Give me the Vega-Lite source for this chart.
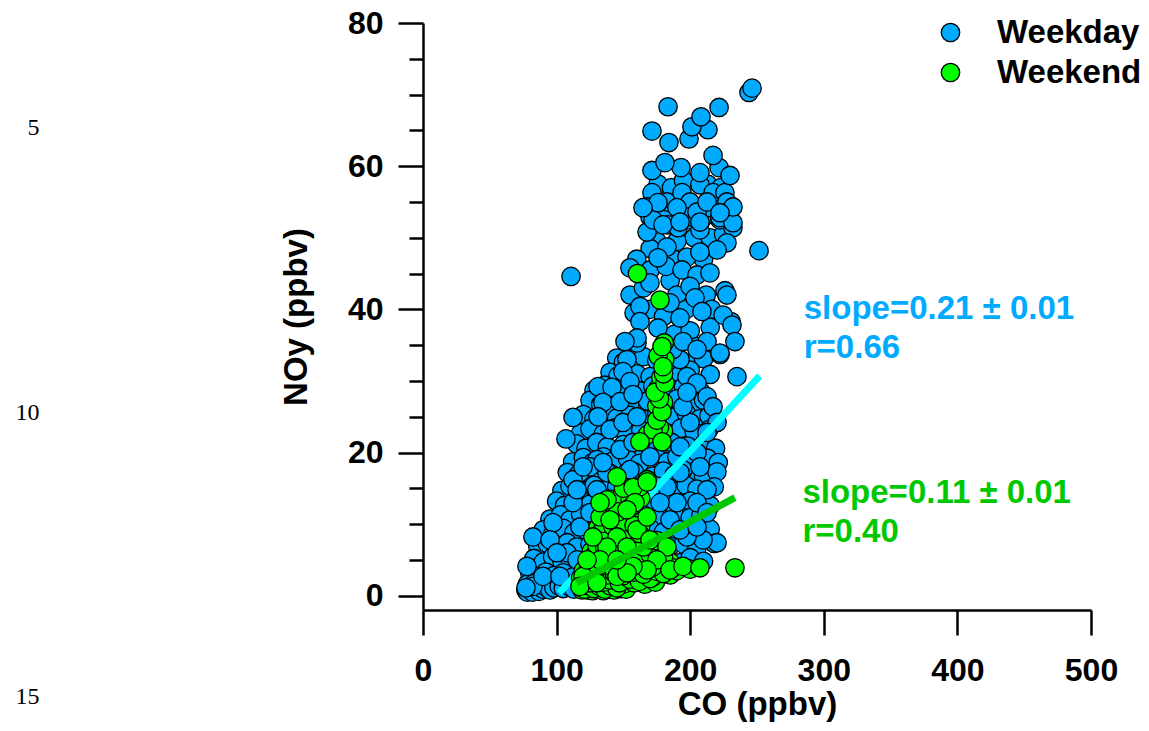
{
"$schema":"https://vega.github.io/schema/vega-lite/v6.json",
"autosize":{"type":"none"},
"padding":{"left":423,"top":23,"right":58,"bottom":121},
"width":668,"height":587,
"background":"white",
"config":{"view":{"stroke":null},"font":"Liberation Sans"},
"datasets":{
"weekday":[
{"CO":145,"NOy":33.2,"day":"Weekday"},{"CO":150,"NOy":32.6,"day":"Weekday"},{"CO":165,"NOy":33.4,"day":"Weekday"},{"CO":175,"NOy":32.8,"day":"Weekday"},{"CO":185,"NOy":33.5,"day":"Weekday"},{"CO":197,"NOy":32.5,"day":"Weekday"},{"CO":210,"NOy":33.1,"day":"Weekday"},
{"CO":140,"NOy":31.2,"day":"Weekday"},{"CO":146,"NOy":30.7,"day":"Weekday"},{"CO":152,"NOy":31.4,"day":"Weekday"},{"CO":160,"NOy":31.0,"day":"Weekday"},{"CO":170,"NOy":30.6,"day":"Weekday"},{"CO":186,"NOy":31.3,"day":"Weekday"},{"CO":192,"NOy":30.8,"day":"Weekday"},{"CO":200,"NOy":31.5,"day":"Weekday"},{"CO":215,"NOy":30.9,"day":"Weekday"},
{"CO":128,"NOy":28.7,"day":"Weekday"},{"CO":136,"NOy":29.4,"day":"Weekday"},{"CO":150,"NOy":29.0,"day":"Weekday"},{"CO":163,"NOy":28.6,"day":"Weekday"},{"CO":172,"NOy":29.3,"day":"Weekday"},{"CO":188,"NOy":28.8,"day":"Weekday"},{"CO":195,"NOy":29.2,"day":"Weekday"},{"CO":208,"NOy":28.5,"day":"Weekday"},
{"CO":125,"NOy":27.3,"day":"Weekday"},{"CO":133,"NOy":26.7,"day":"Weekday"},{"CO":142,"NOy":27.4,"day":"Weekday"},{"CO":155,"NOy":26.8,"day":"Weekday"},{"CO":168,"NOy":27.2,"day":"Weekday"},{"CO":180,"NOy":26.6,"day":"Weekday"},{"CO":190,"NOy":27.5,"day":"Weekday"},{"CO":203,"NOy":26.9,"day":"Weekday"},{"CO":210,"NOy":27.3,"day":"Weekday"},
{"CO":120,"NOy":25.3,"day":"Weekday"},{"CO":128,"NOy":24.7,"day":"Weekday"},{"CO":138,"NOy":25.4,"day":"Weekday"},{"CO":145,"NOy":24.8,"day":"Weekday"},{"CO":155,"NOy":25.2,"day":"Weekday"},{"CO":166,"NOy":24.6,"day":"Weekday"},{"CO":175,"NOy":25.4,"day":"Weekday"},{"CO":187,"NOy":24.9,"day":"Weekday"},{"CO":197,"NOy":25.5,"day":"Weekday"},{"CO":207,"NOy":24.7,"day":"Weekday"},{"CO":214,"NOy":25.1,"day":"Weekday"},
{"CO":118,"NOy":22.7,"day":"Weekday"},{"CO":125,"NOy":23.3,"day":"Weekday"},{"CO":135,"NOy":22.6,"day":"Weekday"},{"CO":143,"NOy":23.4,"day":"Weekday"},{"CO":152,"NOy":22.8,"day":"Weekday"},{"CO":163,"NOy":23.1,"day":"Weekday"},{"CO":183,"NOy":22.7,"day":"Weekday"},{"CO":193,"NOy":23.4,"day":"Weekday"},{"CO":203,"NOy":22.9,"day":"Weekday"},{"CO":214,"NOy":23.2,"day":"Weekday"},
{"CO":115,"NOy":21.2,"day":"Weekday"},{"CO":122,"NOy":20.6,"day":"Weekday"},{"CO":130,"NOy":21.4,"day":"Weekday"},{"CO":138,"NOy":20.8,"day":"Weekday"},{"CO":150,"NOy":21.1,"day":"Weekday"},{"CO":158,"NOy":20.5,"day":"Weekday"},{"CO":168,"NOy":21.3,"day":"Weekday"},{"CO":176,"NOy":20.7,"day":"Weekday"},{"CO":186,"NOy":21.4,"day":"Weekday"},{"CO":198,"NOy":20.9,"day":"Weekday"},{"CO":210,"NOy":21.2,"day":"Weekday"},{"CO":219,"NOy":20.6,"day":"Weekday"},
{"CO":112,"NOy":18.7,"day":"Weekday"},{"CO":120,"NOy":19.3,"day":"Weekday"},{"CO":127,"NOy":18.6,"day":"Weekday"},{"CO":135,"NOy":19.4,"day":"Weekday"},{"CO":142,"NOy":18.8,"day":"Weekday"},{"CO":153,"NOy":19.2,"day":"Weekday"},{"CO":162,"NOy":18.5,"day":"Weekday"},{"CO":175,"NOy":19.3,"day":"Weekday"},{"CO":183,"NOy":18.7,"day":"Weekday"},{"CO":190,"NOy":19.4,"day":"Weekday"},{"CO":200,"NOy":18.9,"day":"Weekday"},{"CO":213,"NOy":19.2,"day":"Weekday"},{"CO":221,"NOy":18.6,"day":"Weekday"},
{"CO":108,"NOy":17.2,"day":"Weekday"},{"CO":115,"NOy":16.6,"day":"Weekday"},{"CO":124,"NOy":17.4,"day":"Weekday"},{"CO":132,"NOy":16.8,"day":"Weekday"},{"CO":140,"NOy":17.1,"day":"Weekday"},{"CO":150,"NOy":16.5,"day":"Weekday"},{"CO":158,"NOy":17.3,"day":"Weekday"},{"CO":172,"NOy":16.7,"day":"Weekday"},{"CO":180,"NOy":17.4,"day":"Weekday"},{"CO":188,"NOy":16.9,"day":"Weekday"},{"CO":200,"NOy":17.2,"day":"Weekday"},{"CO":210,"NOy":16.6,"day":"Weekday"},{"CO":220,"NOy":17.3,"day":"Weekday"},
{"CO":104,"NOy":14.7,"day":"Weekday"},{"CO":110,"NOy":15.3,"day":"Weekday"},{"CO":120,"NOy":14.6,"day":"Weekday"},{"CO":128,"NOy":15.4,"day":"Weekday"},{"CO":137,"NOy":14.8,"day":"Weekday"},{"CO":145,"NOy":15.2,"day":"Weekday"},{"CO":152,"NOy":14.5,"day":"Weekday"},{"CO":175,"NOy":15.3,"day":"Weekday"},{"CO":187,"NOy":14.7,"day":"Weekday"},{"CO":197,"NOy":15.4,"day":"Weekday"},{"CO":205,"NOy":14.9,"day":"Weekday"},{"CO":218,"NOy":15.2,"day":"Weekday"},
{"CO":100,"NOy":13.2,"day":"Weekday"},{"CO":106,"NOy":12.6,"day":"Weekday"},{"CO":118,"NOy":13.4,"day":"Weekday"},{"CO":125,"NOy":12.8,"day":"Weekday"},{"CO":133,"NOy":13.1,"day":"Weekday"},{"CO":142,"NOy":12.5,"day":"Weekday"},{"CO":150,"NOy":13.3,"day":"Weekday"},{"CO":170,"NOy":12.7,"day":"Weekday"},{"CO":183,"NOy":13.4,"day":"Weekday"},{"CO":195,"NOy":12.9,"day":"Weekday"},{"CO":200,"NOy":13.2,"day":"Weekday"},{"CO":215,"NOy":12.6,"day":"Weekday"},
{"CO":95,"NOy":10.7,"day":"Weekday"},{"CO":103,"NOy":11.3,"day":"Weekday"},{"CO":110,"NOy":10.6,"day":"Weekday"},{"CO":118,"NOy":11.4,"day":"Weekday"},{"CO":128,"NOy":10.8,"day":"Weekday"},{"CO":136,"NOy":11.2,"day":"Weekday"},{"CO":146,"NOy":10.5,"day":"Weekday"},{"CO":165,"NOy":11.3,"day":"Weekday"},{"CO":176,"NOy":10.7,"day":"Weekday"},{"CO":188,"NOy":11.4,"day":"Weekday"},{"CO":200,"NOy":10.9,"day":"Weekday"},{"CO":208,"NOy":11.2,"day":"Weekday"},
{"CO":90,"NOy":9.2,"day":"Weekday"},{"CO":97,"NOy":8.6,"day":"Weekday"},{"CO":105,"NOy":9.4,"day":"Weekday"},{"CO":113,"NOy":8.8,"day":"Weekday"},{"CO":122,"NOy":9.1,"day":"Weekday"},{"CO":130,"NOy":8.5,"day":"Weekday"},{"CO":140,"NOy":9.3,"day":"Weekday"},{"CO":150,"NOy":8.7,"day":"Weekday"},{"CO":170,"NOy":9.4,"day":"Weekday"},{"CO":180,"NOy":8.9,"day":"Weekday"},{"CO":190,"NOy":9.2,"day":"Weekday"},{"CO":198,"NOy":8.6,"day":"Weekday"},{"CO":215,"NOy":9.3,"day":"Weekday"},
{"CO":86,"NOy":6.8,"day":"Weekday"},{"CO":93,"NOy":7.3,"day":"Weekday"},{"CO":100,"NOy":6.6,"day":"Weekday"},{"CO":108,"NOy":7.4,"day":"Weekday"},{"CO":115,"NOy":6.8,"day":"Weekday"},{"CO":125,"NOy":7.2,"day":"Weekday"},{"CO":135,"NOy":6.5,"day":"Weekday"},{"CO":145,"NOy":7.3,"day":"Weekday"},{"CO":160,"NOy":6.7,"day":"Weekday"},{"CO":175,"NOy":7.4,"day":"Weekday"},{"CO":185,"NOy":6.9,"day":"Weekday"},{"CO":195,"NOy":7.2,"day":"Weekday"},{"CO":205,"NOy":6.6,"day":"Weekday"},{"CO":218,"NOy":7.3,"day":"Weekday"},
{"CO":83,"NOy":5.2,"day":"Weekday"},{"CO":90,"NOy":4.7,"day":"Weekday"},{"CO":97,"NOy":5.4,"day":"Weekday"},{"CO":104,"NOy":4.8,"day":"Weekday"},{"CO":110,"NOy":5.1,"day":"Weekday"},{"CO":118,"NOy":4.6,"day":"Weekday"},{"CO":128,"NOy":5.3,"day":"Weekday"},{"CO":140,"NOy":4.7,"day":"Weekday"},{"CO":150,"NOy":5.4,"day":"Weekday"},{"CO":165,"NOy":4.9,"day":"Weekday"},{"CO":180,"NOy":5.2,"day":"Weekday"},{"CO":192,"NOy":4.6,"day":"Weekday"},{"CO":200,"NOy":5.3,"day":"Weekday"},{"CO":210,"NOy":4.8,"day":"Weekday"},
{"CO":80,"NOy":3.1,"day":"Weekday"},{"CO":85,"NOy":2.7,"day":"Weekday"},{"CO":92,"NOy":3.3,"day":"Weekday"},{"CO":98,"NOy":2.8,"day":"Weekday"},{"CO":105,"NOy":3.2,"day":"Weekday"},{"CO":112,"NOy":2.6,"day":"Weekday"},{"CO":120,"NOy":3.3,"day":"Weekday"},{"CO":135,"NOy":2.8,"day":"Weekday"},{"CO":150,"NOy":3.1,"day":"Weekday"},{"CO":165,"NOy":2.7,"day":"Weekday"},{"CO":185,"NOy":3.2,"day":"Weekday"},
{"CO":78,"NOy":1.6,"day":"Weekday"},{"CO":80,"NOy":1.2,"day":"Weekday"},{"CO":83,"NOy":1.7,"day":"Weekday"},{"CO":86,"NOy":1.3,"day":"Weekday"},{"CO":90,"NOy":1.8,"day":"Weekday"},{"CO":95,"NOy":1.4,"day":"Weekday"},{"CO":100,"NOy":1.9,"day":"Weekday"},{"CO":108,"NOy":1.5,"day":"Weekday"},{"CO":118,"NOy":1.8,"day":"Weekday"},
{"CO":77,"NOy":0.8,"day":"Weekday"},{"CO":79,"NOy":0.6,"day":"Weekday"},{"CO":81,"NOy":0.9,"day":"Weekday"},{"CO":84,"NOy":0.7,"day":"Weekday"},{"CO":88,"NOy":1.0,"day":"Weekday"},
{"CO":78,"NOy":0.5,"day":"Weekday"},{"CO":80,"NOy":0.9,"day":"Weekday"},{"CO":82,"NOy":0.5,"day":"Weekday"},{"CO":85,"NOy":1.0,"day":"Weekday"},{"CO":87,"NOy":0.6,"day":"Weekday"},{"CO":90,"NOy":0.9,"day":"Weekday"},{"CO":92,"NOy":1.2,"day":"Weekday"},{"CO":95,"NOy":0.8,"day":"Weekday"},{"CO":98,"NOy":1.1,"day":"Weekday"},{"CO":102,"NOy":1.3,"day":"Weekday"},{"CO":105,"NOy":1.0,"day":"Weekday"},{"CO":110,"NOy":1.2,"day":"Weekday"},{"CO":113,"NOy":0.9,"day":"Weekday"},
{"CO":155,"NOy":42,"day":"Weekday"},{"CO":158,"NOy":39.5,"day":"Weekday"},{"CO":165,"NOy":43,"day":"Weekday"},{"CO":170,"NOy":40,"day":"Weekday"},{"CO":185,"NOy":44,"day":"Weekday"},{"CO":190,"NOy":42,"day":"Weekday"},{"CO":212,"NOy":42,"day":"Weekday"},{"CO":216,"NOy":40,"day":"Weekday"},{"CO":188,"NOy":47,"day":"Weekday"},{"CO":175,"NOy":49.5,"day":"Weekday"},{"CO":210,"NOy":47,"day":"Weekday"},{"CO":226,"NOy":42.6,"day":"Weekday"},{"CO":230.5,"NOy":38.3,"day":"Weekday"},{"CO":176,"NOy":57.5,"day":"Weekday"},{"CO":186,"NOy":57,"day":"Weekday"},{"CO":195,"NOy":58,"day":"Weekday"},{"CO":213,"NOy":57.5,"day":"Weekday"},{"CO":223,"NOy":57,"day":"Weekday"},{"CO":180,"NOy":53.5,"day":"Weekday"},{"CO":203,"NOy":50,"day":"Weekday"},{"CO":215,"NOy":50,"day":"Weekday"},{"CO":225,"NOy":50.5,"day":"Weekday"},{"CO":190,"NOy":49.5,"day":"Weekday"},{"CO":170,"NOy":48.5,"day":"Weekday"},{"CO":160,"NOy":47,"day":"Weekday"},
{"CO":180,"NOy":39,"day":"Weekday"},{"CO":188,"NOy":36.5,"day":"Weekday"},{"CO":197,"NOy":40,"day":"Weekday"},{"CO":170,"NOy":45.5,"day":"Weekday"},{"CO":182,"NOy":46,"day":"Weekday"},{"CO":200,"NOy":37,"day":"Weekday"},{"CO":215,"NOy":37.5,"day":"Weekday"},
{"CO":160.2,"NOy":35.3,"day":"Weekday"},{"CO":152.7,"NOy":33.0,"day":"Weekday"},{"CO":149.7,"NOy":31.3,"day":"Weekday"},{"CO":131.0,"NOy":29.2,"day":"Weekday"},{"CO":141.5,"NOy":29.1,"day":"Weekday"},{"CO":154.9,"NOy":29.9,"day":"Weekday"},{"CO":134.7,"NOy":27.0,"day":"Weekday"},{"CO":147.5,"NOy":27.1,"day":"Weekday"},{"CO":157.2,"NOy":28.1,"day":"Weekday"},{"CO":112.3,"NOy":24.9,"day":"Weekday"},{"CO":107.0,"NOy":21.9,"day":"Weekday"},{"CO":131.0,"NOy":25.0,"day":"Weekday"},{"CO":140.0,"NOy":23.2,"day":"Weekday"},{"CO":149.7,"NOy":24.2,"day":"Weekday"},{"CO":160.2,"NOy":25.0,"day":"Weekday"},{"CO":192.4,"NOy":33.0,"day":"Weekday"},{"CO":197.6,"NOy":30.6,"day":"Weekday"},{"CO":205.1,"NOy":29.7,"day":"Weekday"},{"CO":212.6,"NOy":27.8,"day":"Weekday"},{"CO":217.1,"NOy":26.4,"day":"Weekday"},{"CO":220.1,"NOy":24.2,"day":"Weekday"},{"CO":212.6,"NOy":22.8,"day":"Weekday"},{"CO":199.9,"NOy":24.2,"day":"Weekday"},{"CO":194.6,"NOy":26.4,"day":"Weekday"},{"CO":197.6,"NOy":28.4,"day":"Weekday"},{"CO":222.3,"NOy":33.7,"day":"Weekday"},{"CO":235.0,"NOy":30.6,"day":"Weekday"},{"CO":205.1,"NOy":34.8,"day":"Weekday"},{"CO":187.1,"NOy":34.4,"day":"Weekday"},{"CO":130.2,"NOy":19.0,"day":"Weekday"},{"CO":147.5,"NOy":20.4,"day":"Weekday"},{"CO":157.2,"NOy":21.4,"day":"Weekday"},{"CO":169.9,"NOy":19.4,"day":"Weekday"},{"CO":192.4,"NOy":20.8,"day":"Weekday"},{"CO":205.1,"NOy":20.0,"day":"Weekday"},{"CO":117.5,"NOy":17.2,"day":"Weekday"},{"CO":137.7,"NOy":17.2,"day":"Weekday"},{"CO":154.9,"NOy":17.6,"day":"Weekday"},{"CO":194.6,"NOy":17.6,"day":"Weekday"},
{"CO":112.3,"NOy":16.2,"day":"Weekday"},{"CO":125.0,"NOy":18.0,"day":"Weekday"},{"CO":134.7,"NOy":18.6,"day":"Weekday"},{"CO":119.8,"NOy":18.0,"day":"Weekday"},{"CO":97.3,"NOy":10.2,"day":"Weekday"},{"CO":82.3,"NOy":8.2,"day":"Weekday"},{"CO":95.1,"NOy":7.8,"day":"Weekday"},{"CO":77.8,"NOy":4.1,"day":"Weekday"},{"CO":82.3,"NOy":1.3,"day":"Weekday"},{"CO":77.1,"NOy":1.1,"day":"Weekday"},{"CO":89.8,"NOy":2.7,"day":"Weekday"},{"CO":102.5,"NOy":2.7,"day":"Weekday"},{"CO":107.8,"NOy":6.0,"day":"Weekday"},{"CO":115.3,"NOy":5.0,"day":"Weekday"},{"CO":100.3,"NOy":6.0,"day":"Weekday"},{"CO":117.5,"NOy":9.6,"day":"Weekday"},{"CO":112.3,"NOy":13.0,"day":"Weekday"},{"CO":125.0,"NOy":11.6,"day":"Weekday"},{"CO":130.2,"NOy":14.8,"day":"Weekday"},{"CO":115.3,"NOy":14.8,"day":"Weekday"},{"CO":212.6,"NOy":14.8,"day":"Weekday"},{"CO":205.1,"NOy":13.0,"day":"Weekday"},{"CO":212.6,"NOy":11.6,"day":"Weekday"},{"CO":220.1,"NOy":7.4,"day":"Weekday"},{"CO":209.6,"NOy":7.8,"day":"Weekday"},{"CO":197.6,"NOy":8.2,"day":"Weekday"},{"CO":190.1,"NOy":13.0,"day":"Weekday"},{"CO":182.6,"NOy":15.2,"day":"Weekday"},{"CO":192.4,"NOy":17.2,"day":"Weekday"},{"CO":207.3,"NOy":18.0,"day":"Weekday"},{"CO":177.4,"NOy":13.0,"day":"Weekday"},{"CO":184.9,"NOy":10.6,"day":"Weekday"},{"CO":192.4,"NOy":9.2,"day":"Weekday"},{"CO":205.1,"NOy":9.6,"day":"Weekday"},
{"CO":169.9,"NOy":52.9,"day":"Weekday"},{"CO":172.2,"NOy":51.8,"day":"Weekday"},{"CO":167.7,"NOy":50.8,"day":"Weekday"},{"CO":183.4,"NOy":51.8,"day":"Weekday"},{"CO":190.9,"NOy":51.4,"day":"Weekday"},{"CO":199.9,"NOy":52.5,"day":"Weekday"},{"CO":207.3,"NOy":51.1,"day":"Weekday"},{"CO":209.6,"NOy":52.8,"day":"Weekday"},{"CO":222.3,"NOy":52.5,"day":"Weekday"},{"CO":232.0,"NOy":51.4,"day":"Weekday"},{"CO":227.5,"NOy":49.3,"day":"Weekday"},{"CO":220.1,"NOy":48.3,"day":"Weekday"},{"CO":251.5,"NOy":48.2,"day":"Weekday"},{"CO":182.6,"NOy":48.7,"day":"Weekday"},{"CO":175.9,"NOy":47.2,"day":"Weekday"},{"CO":197.6,"NOy":47.3,"day":"Weekday"},{"CO":207.3,"NOy":48.0,"day":"Weekday"},{"CO":154.9,"NOy":45.8,"day":"Weekday"},{"CO":169.9,"NOy":43.7,"day":"Weekday"},{"CO":193.9,"NOy":45.5,"day":"Weekday"},{"CO":205.1,"NOy":44.8,"day":"Weekday"},{"CO":214.8,"NOy":45.1,"day":"Weekday"},{"CO":199.9,"NOy":43.2,"day":"Weekday"},{"CO":162.4,"NOy":40.4,"day":"Weekday"},{"CO":184.9,"NOy":40.9,"day":"Weekday"},{"CO":203.6,"NOy":41.6,"day":"Weekday"},{"CO":208.8,"NOy":39.7,"day":"Weekday"},{"CO":227.5,"NOy":42.0,"day":"Weekday"},{"CO":224.6,"NOy":39.2,"day":"Weekday"},{"CO":231.3,"NOy":37.8,"day":"Weekday"},{"CO":162.4,"NOy":38.3,"day":"Weekday"},{"CO":175.9,"NOy":37.4,"day":"Weekday"},{"CO":192.4,"NOy":38.8,"day":"Weekday"},{"CO":160.2,"NOy":36.0,"day":"Weekday"},{"CO":151.2,"NOy":35.5,"day":"Weekday"},{"CO":194.6,"NOy":35.5,"day":"Weekday"},{"CO":212.6,"NOy":35.5,"day":"Weekday"},{"CO":233.5,"NOy":35.5,"day":"Weekday"},{"CO":205.1,"NOy":34.4,"day":"Weekday"},{"CO":222.3,"NOy":33.9,"day":"Weekday"},
{"CO":110.8,"NOy":44.6,"day":"Weekday"},
{"CO":207.3,"NOy":57.4,"day":"Weekday"},{"CO":171.4,"NOy":56.3,"day":"Weekday"},{"CO":168.4,"NOy":54.3,"day":"Weekday"},{"CO":182.6,"NOy":55.0,"day":"Weekday"},{"CO":193.9,"NOy":56.3,"day":"Weekday"},{"CO":199.9,"NOy":55.0,"day":"Weekday"},{"CO":212.6,"NOy":54.2,"day":"Weekday"},{"CO":217.1,"NOy":56.3,"day":"Weekday"},{"CO":226.0,"NOy":56.3,"day":"Weekday"},{"CO":227.5,"NOy":55.0,"day":"Weekday"},{"CO":172.2,"NOy":52.5,"day":"Weekday"},{"CO":198.4,"NOy":52.9,"day":"Weekday"},{"CO":222.3,"NOy":52.8,"day":"Weekday"},{"CO":232.0,"NOy":52.1,"day":"Weekday"},{"CO":175.9,"NOy":54.9,"day":"Weekday"},{"CO":190.1,"NOy":54.2,"day":"Weekday"},{"CO":205.1,"NOy":53.6,"day":"Weekday"},{"CO":212.6,"NOy":55.0,"day":"Weekday"},{"CO":232.0,"NOy":54.3,"day":"Weekday"},{"CO":164.7,"NOy":54.2,"day":"Weekday"},{"CO":179.6,"NOy":51.8,"day":"Weekday"},{"CO":192.4,"NOy":52.2,"day":"Weekday"},{"CO":207.3,"NOy":52.2,"day":"Weekday"},{"CO":222.3,"NOy":53.5,"day":"Weekday"},
{"CO":171.4,"NOy":59.4,"day":"Weekday"},{"CO":193.1,"NOy":59.8,"day":"Weekday"},{"CO":207.3,"NOy":59.1,"day":"Weekday"},{"CO":221.6,"NOy":59.8,"day":"Weekday"},{"CO":229.8,"NOy":58.7,"day":"Weekday"},{"CO":181.1,"NOy":60.5,"day":"Weekday"},{"CO":217.1,"NOy":61.5,"day":"Weekday"},{"CO":184.1,"NOy":63.3,"day":"Weekday"},{"CO":199.1,"NOy":63.8,"day":"Weekday"},{"CO":171.4,"NOy":64.9,"day":"Weekday"},{"CO":213.3,"NOy":65.1,"day":"Weekday"},{"CO":201.3,"NOy":65.5,"day":"Weekday"},{"CO":208.1,"NOy":66.9,"day":"Weekday"},{"CO":183.4,"NOy":68.3,"day":"Weekday"},{"CO":221.6,"NOy":68.2,"day":"Weekday"},{"CO":244.0,"NOy":70.3,"day":"Weekday"},{"CO":246.3,"NOy":70.9,"day":"Weekday"}
],
"weekend":[
{"CO":119,"NOy":0.8,"day":"Weekend"},{"CO":123,"NOy":0.8,"day":"Weekend"},{"CO":127,"NOy":0.7,"day":"Weekend"},{"CO":131,"NOy":0.9,"day":"Weekend"},{"CO":135,"NOy":0.7,"day":"Weekend"},{"CO":139,"NOy":0.9,"day":"Weekend"},{"CO":143,"NOy":0.8,"day":"Weekend"},{"CO":148,"NOy":1.0,"day":"Weekend"},{"CO":152,"NOy":0.9,"day":"Weekend"},
{"CO":122,"NOy":1.6,"day":"Weekend"},{"CO":126,"NOy":1.5,"day":"Weekend"},{"CO":133,"NOy":1.7,"day":"Weekend"},{"CO":138,"NOy":1.5,"day":"Weekend"},{"CO":143,"NOy":1.7,"day":"Weekend"},{"CO":150,"NOy":1.6,"day":"Weekend"},{"CO":158,"NOy":1.8,"day":"Weekend"},{"CO":166,"NOy":1.6,"day":"Weekend"},{"CO":174,"NOy":1.9,"day":"Weekend"},
{"CO":118,"NOy":1.2,"day":"Weekend"},{"CO":121,"NOy":0.9,"day":"Weekend"},{"CO":124,"NOy":1.4,"day":"Weekend"},{"CO":128,"NOy":1.0,"day":"Weekend"},{"CO":132,"NOy":1.3,"day":"Weekend"},{"CO":136,"NOy":0.9,"day":"Weekend"},{"CO":140,"NOy":1.4,"day":"Weekend"},{"CO":145,"NOy":1.1,"day":"Weekend"},
{"CO":118,"NOy":2.5,"day":"Weekend"},{"CO":124,"NOy":2.6,"day":"Weekend"},{"CO":129,"NOy":2.4,"day":"Weekend"},{"CO":135,"NOy":2.6,"day":"Weekend"},{"CO":141,"NOy":2.5,"day":"Weekend"},{"CO":147,"NOy":2.7,"day":"Weekend"},{"CO":153,"NOy":2.5,"day":"Weekend"},{"CO":160,"NOy":2.6,"day":"Weekend"},{"CO":168,"NOy":2.8,"day":"Weekend"},{"CO":172,"NOy":2.6,"day":"Weekend"},{"CO":185,"NOy":2.9,"day":"Weekend"},
{"CO":120,"NOy":2.1,"day":"Weekend"},{"CO":125,"NOy":1.8,"day":"Weekend"},{"CO":130,"NOy":2.3,"day":"Weekend"},{"CO":135,"NOy":1.9,"day":"Weekend"},{"CO":140,"NOy":2.2,"day":"Weekend"},{"CO":147,"NOy":1.8,"day":"Weekend"},{"CO":155,"NOy":2.3,"day":"Weekend"},{"CO":162,"NOy":2.0,"day":"Weekend"},{"CO":170,"NOy":2.4,"day":"Weekend"},
{"CO":120,"NOy":3.5,"day":"Weekend"},{"CO":127,"NOy":3.6,"day":"Weekend"},{"CO":133,"NOy":3.4,"day":"Weekend"},{"CO":139,"NOy":3.6,"day":"Weekend"},{"CO":145,"NOy":3.5,"day":"Weekend"},{"CO":151,"NOy":3.7,"day":"Weekend"},{"CO":160,"NOy":3.5,"day":"Weekend"},{"CO":168,"NOy":3.7,"day":"Weekend"},{"CO":178,"NOy":3.6,"day":"Weekend"},
{"CO":122,"NOy":3.1,"day":"Weekend"},{"CO":127,"NOy":2.8,"day":"Weekend"},{"CO":133,"NOy":3.3,"day":"Weekend"},{"CO":138,"NOy":2.9,"day":"Weekend"},{"CO":143,"NOy":3.2,"day":"Weekend"},{"CO":150,"NOy":2.8,"day":"Weekend"},{"CO":158,"NOy":3.3,"day":"Weekend"},{"CO":165,"NOy":3.0,"day":"Weekend"},{"CO":175,"NOy":3.4,"day":"Weekend"},{"CO":180,"NOy":3.1,"day":"Weekend"},{"CO":190,"NOy":3.5,"day":"Weekend"},
{"CO":124,"NOy":4.8,"day":"Weekend"},{"CO":130,"NOy":4.9,"day":"Weekend"},{"CO":137,"NOy":4.7,"day":"Weekend"},{"CO":143,"NOy":4.9,"day":"Weekend"},{"CO":150,"NOy":4.8,"day":"Weekend"},{"CO":157,"NOy":5.0,"day":"Weekend"},{"CO":165,"NOy":4.8,"day":"Weekend"},{"CO":175,"NOy":4.9,"day":"Weekend"},{"CO":185,"NOy":4.7,"day":"Weekend"},
{"CO":125,"NOy":4.1,"day":"Weekend"},{"CO":130,"NOy":3.8,"day":"Weekend"},{"CO":136,"NOy":4.3,"day":"Weekend"},{"CO":142,"NOy":3.9,"day":"Weekend"},{"CO":148,"NOy":4.2,"day":"Weekend"},{"CO":155,"NOy":3.8,"day":"Weekend"},{"CO":163,"NOy":4.3,"day":"Weekend"},{"CO":172,"NOy":4.0,"day":"Weekend"},{"CO":187,"NOy":3.9,"day":"Weekend"},{"CO":200,"NOy":3.7,"day":"Weekend"},
{"CO":126,"NOy":6.2,"day":"Weekend"},{"CO":133,"NOy":6.3,"day":"Weekend"},{"CO":139,"NOy":6.1,"day":"Weekend"},{"CO":146,"NOy":6.3,"day":"Weekend"},{"CO":153,"NOy":6.2,"day":"Weekend"},{"CO":161,"NOy":6.4,"day":"Weekend"},{"CO":170,"NOy":6.2,"day":"Weekend"},
{"CO":128,"NOy":5.6,"day":"Weekend"},{"CO":133,"NOy":5.2,"day":"Weekend"},{"CO":140,"NOy":5.8,"day":"Weekend"},{"CO":147,"NOy":5.3,"day":"Weekend"},{"CO":153,"NOy":5.7,"day":"Weekend"},{"CO":160,"NOy":5.2,"day":"Weekend"},{"CO":170,"NOy":5.8,"day":"Weekend"},{"CO":180,"NOy":5.4,"day":"Weekend"},
{"CO":129,"NOy":7.8,"day":"Weekend"},{"CO":135,"NOy":7.9,"day":"Weekend"},{"CO":141,"NOy":7.7,"day":"Weekend"},{"CO":149,"NOy":7.9,"day":"Weekend"},{"CO":156,"NOy":7.8,"day":"Weekend"},{"CO":163,"NOy":8.0,"day":"Weekend"},{"CO":175,"NOy":7.7,"day":"Weekend"},
{"CO":130,"NOy":7.1,"day":"Weekend"},{"CO":136,"NOy":6.7,"day":"Weekend"},{"CO":142,"NOy":7.3,"day":"Weekend"},{"CO":150,"NOy":6.9,"day":"Weekend"},{"CO":157,"NOy":7.2,"day":"Weekend"},{"CO":165,"NOy":6.8,"day":"Weekend"},
{"CO":131,"NOy":9.5,"day":"Weekend"},{"CO":137,"NOy":9.4,"day":"Weekend"},{"CO":145,"NOy":9.6,"day":"Weekend"},{"CO":153,"NOy":9.5,"day":"Weekend"},{"CO":163,"NOy":9.7,"day":"Weekend"},
{"CO":132,"NOy":8.6,"day":"Weekend"},{"CO":138,"NOy":8.2,"day":"Weekend"},{"CO":146,"NOy":8.8,"day":"Weekend"},{"CO":154,"NOy":8.3,"day":"Weekend"},{"CO":162,"NOy":8.7,"day":"Weekend"},
{"CO":134,"NOy":11.0,"day":"Weekend"},{"CO":143,"NOy":11.2,"day":"Weekend"},{"CO":150,"NOy":10.9,"day":"Weekend"},{"CO":160,"NOy":11.1,"day":"Weekend"},
{"CO":135,"NOy":10.1,"day":"Weekend"},{"CO":142,"NOy":9.7,"day":"Weekend"},{"CO":150,"NOy":10.3,"day":"Weekend"},{"CO":158,"NOy":9.8,"day":"Weekend"},
{"CO":140,"NOy":13.5,"day":"Weekend"},{"CO":148,"NOy":13.7,"day":"Weekend"},{"CO":155,"NOy":13.4,"day":"Weekend"},{"CO":163,"NOy":13.6,"day":"Weekend"},
{"CO":138,"NOy":12.1,"day":"Weekend"},{"CO":146,"NOy":11.7,"day":"Weekend"},{"CO":155,"NOy":12.3,"day":"Weekend"},{"CO":150,"NOy":15.0,"day":"Weekend"},{"CO":162,"NOy":15.2,"day":"Weekend"},
{"CO":145.2,"NOy":16.6,"day":"Weekend"},{"CO":167.7,"NOy":16.2,"day":"Weekend"},{"CO":157.2,"NOy":15.1,"day":"Weekend"},{"CO":167.7,"NOy":15.9,"day":"Weekend"},{"CO":158.7,"NOy":13.0,"day":"Weekend"},{"CO":137.7,"NOy":13.4,"day":"Weekend"},{"CO":152.7,"NOy":12.0,"day":"Weekend"},{"CO":132.5,"NOy":11.0,"day":"Weekend"},{"CO":160.2,"NOy":9.2,"day":"Weekend"},{"CO":145.2,"NOy":8.2,"day":"Weekend"},{"CO":137.7,"NOy":6.8,"day":"Weekend"},{"CO":152.7,"NOy":6.8,"day":"Weekend"},{"CO":169.9,"NOy":7.8,"day":"Weekend"},{"CO":182.6,"NOy":6.8,"day":"Weekend"},{"CO":175.1,"NOy":5.0,"day":"Weekend"},{"CO":184.9,"NOy":3.6,"day":"Weekend"},{"CO":194.6,"NOy":4.1,"day":"Weekend"},{"CO":207.3,"NOy":3.9,"day":"Weekend"},{"CO":233.5,"NOy":3.9,"day":"Weekend"},{"CO":167.7,"NOy":3.6,"day":"Weekend"},{"CO":157.2,"NOy":4.1,"day":"Weekend"},{"CO":127.2,"NOy":3.6,"day":"Weekend"},{"CO":119.8,"NOy":2.7,"day":"Weekend"},{"CO":117.5,"NOy":1.3,"day":"Weekend"},{"CO":130.2,"NOy":1.8,"day":"Weekend"},{"CO":145.2,"NOy":2.7,"day":"Weekend"},{"CO":152.7,"NOy":3.2,"day":"Weekend"},{"CO":132.5,"NOy":5.0,"day":"Weekend"},{"CO":145.2,"NOy":5.0,"day":"Weekend"},{"CO":122.8,"NOy":5.0,"day":"Weekend"},{"CO":127.2,"NOy":8.2,"day":"Weekend"},{"CO":140.0,"NOy":10.6,"day":"Weekend"},{"CO":132.5,"NOy":13.0,"day":"Weekend"},{"CO":167.7,"NOy":11.0,"day":"Weekend"},
{"CO":168,"NOy":22.5,"day":"Weekend"},{"CO":180,"NOy":23,"day":"Weekend"},{"CO":177,"NOy":23.5,"day":"Weekend"},{"CO":175,"NOy":26.5,"day":"Weekend"},{"CO":180,"NOy":27,"day":"Weekend"},{"CO":176,"NOy":29,"day":"Weekend"},{"CO":178,"NOy":30.5,"day":"Weekend"},{"CO":181,"NOy":33,"day":"Weekend"},{"CO":176,"NOy":33.5,"day":"Weekend"},
{"CO":172.2,"NOy":23.2,"day":"Weekend"},{"CO":162.4,"NOy":21.5,"day":"Weekend"},{"CO":178.9,"NOy":21.5,"day":"Weekend"},{"CO":175,"NOy":24.5,"day":"Weekend"},{"CO":178.9,"NOy":25.7,"day":"Weekend"},{"CO":177,"NOy":27.5,"day":"Weekend"},{"CO":173.7,"NOy":28.4,"day":"Weekend"},{"CO":181.1,"NOy":29.7,"day":"Weekend"},{"CO":180,"NOy":31,"day":"Weekend"},{"CO":179.6,"NOy":32.0,"day":"Weekend"},{"CO":180.5,"NOy":35.3,"day":"Weekend"},{"CO":178.9,"NOy":34.8,"day":"Weekend"},{"CO":177.4,"NOy":41.3,"day":"Weekend"},{"CO":160.5,"NOy":45.0,"day":"Weekend"}
],
"fits":[
{"day":"Weekday","CO":102,"NOy":0.4},{"day":"Weekday","CO":252,"NOy":30.7},
{"day":"Weekend","CO":115,"NOy":1.8},{"day":"Weekend","CO":233.5,"NOy":13.7}
],
"notes":[
{"day":"Weekday","CO":285,"NOy":38.7,"text":"slope=0.21 ± 0.01"},
{"day":"Weekday","CO":285,"NOy":33.2,"text":"r=0.66"},
{"day":"Weekend","CO":284,"NOy":13.0,"text":"slope=0.11 ± 0.01"},
{"day":"Weekend","CO":284,"NOy":7.5,"text":"r=0.40"}
],
"lineno":[
{"n":"5","CO":-287,"NOy":64.4},
{"n":"10","CO":-287,"NOy":24.6},
{"n":"15","CO":-287,"NOy":-15.2}
]
},
"encoding":{
"x":{"field":"CO","type":"quantitative",
 "scale":{"domain":[0,500],"nice":false,"zero":false},
 "axis":{"values":[0,100,200,300,400,500],"title":"CO (ppbv)","grid":false,
  "domainColor":"black","domainWidth":2.5,"tickColor":"black","tickWidth":2.5,"tickSize":25,
  "labelFont":"Liberation Sans","labelFontSize":32,"labelFontWeight":"bold","labelColor":"black","labelPadding":20,"labelFlush":false,"labelOverlap":false,
  "titleFont":"Liberation Sans","titleFontSize":33,"titleFontWeight":"bold","titleColor":"black","titlePadding":2}},
"y":{"field":"NOy","type":"quantitative",
 "scale":{"domain":[-2,80],"nice":false,"zero":false},
 "axis":{"values":[0,5,10,15,20,25,30,35,40,45,50,55,60,65,70,75,80],"title":"NOy (ppbv)","grid":false,
  "labelExpr":"datum.value % 20 === 0 ? datum.label : ''",
  "domainColor":"black","domainWidth":2.5,"tickColor":"black","tickWidth":2.5,
  "tickSize":{"condition":{"test":"datum.value % 20 === 0","value":25},"value":14},
  "labelFont":"Liberation Sans","labelFontSize":32,"labelFontWeight":"bold","labelColor":"black","labelPadding":15,"labelOverlap":false,
  "titleFont":"Liberation Sans","titleFontSize":33,"titleFontWeight":"bold","titleColor":"black","titlePadding":34}}
},
"layer":[
{"data":{"name":"weekday"},
 "mark":{"type":"point","shape":"circle","filled":true,"size":340,"stroke":"black","strokeWidth":1.3,"opacity":1},
 "encoding":{"color":{"field":"day","type":"nominal",
   "scale":{"domain":["Weekday","Weekend"],"range":["#00AAFF","#00FF00"]},
   "legend":{"title":null,"orient":"none","legendX":511,"legendY":-7,"padding":0,
     "symbolType":"circle","symbolSize":340,"symbolStrokeColor":"black","symbolStrokeWidth":1.3,
     "labelFont":"Liberation Sans","labelFontSize":33,"labelFontWeight":"bold","labelColor":"black",
     "labelOffset":30,"rowPadding":6,"labelLimit":300}}}},
{"data":{"name":"fits"},"transform":[{"filter":"datum.day === 'Weekday'"}],
 "mark":{"type":"line","color":"#00FFFF","strokeWidth":7,"strokeCap":"butt"},"encoding":{}},
{"data":{"name":"weekend"},
 "mark":{"type":"point","shape":"circle","filled":true,"size":340,"stroke":"black","strokeWidth":1.3,"opacity":1},
 "encoding":{"color":{"field":"day","type":"nominal"}}},
{"data":{"name":"fits"},"transform":[{"filter":"datum.day === 'Weekend'"}],
 "mark":{"type":"line","color":"#00C800","strokeWidth":7,"strokeCap":"butt"},"encoding":{}},
{"data":{"name":"notes"},"transform":[{"filter":"datum.day === 'Weekday'"}],
 "mark":{"type":"text","align":"left","baseline":"alphabetic","font":"Liberation Sans","fontSize":33,"fontWeight":"bold","color":"#00AAFF"},
 "encoding":{"text":{"field":"text"}}},
{"data":{"name":"notes"},"transform":[{"filter":"datum.day === 'Weekend'"}],
 "mark":{"type":"text","align":"left","baseline":"alphabetic","font":"Liberation Sans","fontSize":33,"fontWeight":"bold","color":"#00C800"},
 "encoding":{"text":{"field":"text"}}},
{"data":{"name":"lineno"},
 "mark":{"type":"text","align":"right","baseline":"alphabetic","font":"Liberation Serif","fontSize":24,"color":"black"},
 "encoding":{"text":{"field":"n"}}}
]
}
